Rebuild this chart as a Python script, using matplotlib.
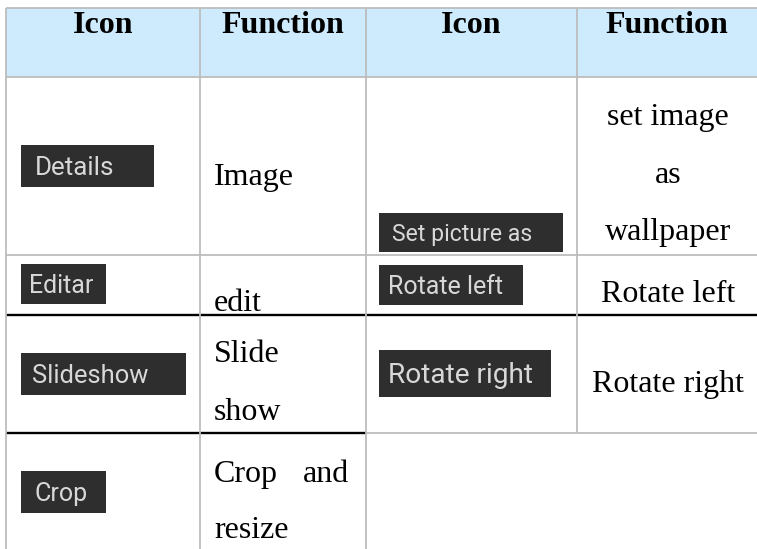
import matplotlib
matplotlib.use("Agg")
import matplotlib.pyplot as plt
from matplotlib.patches import Rectangle

# table content
headers = ["Icon", "Function", "Icon", "Function"]
left_icons = ["Details", "Editar", "Slideshow", "Crop"]
left_funcs = [["Image"], ["edit"], ["Slide", "show"], ["Crop  and", "resize"]]
right_icons = ["Set picture as", "Rotate left", "Rotate right"]
right_funcs = [["set image", "as", "wallpaper"], ["Rotate left"], ["Rotate right"]]

# layout (pixel coordinates, y downwards)
W, H = 757, 549
col_x = [6, 200, 366, 577, 757]
row_y = [8, 77, 255, 315, 433, 549]
GRAY = "#bdbdbd"
HEAD_BG = "#cdebfc"
BOX = "#2e2e2e"
BOX_TXT = "#d8d8d8"
SERIF = "Liberation Serif"

# icon boxes: (x0, y0, x1, y1), text left, font px
left_boxes = [(21, 145, 154, 187, 35, 26), (21, 264, 106, 304, 29, 25),
              (21, 353, 186, 395, 32, 25.5), (21, 471, 106, 513, 35, 25)]
right_boxes = [(379, 213, 563, 252, 392, 23), (379, 265, 523, 305, 388, 25),
               (379, 350, 551, 397, 388, 28)]
# function text baselines
left_base = [[185], [311], [362, 420], [482, 538]]
right_base = [[125, 183, 240], [302], [392]]

fig = plt.figure(figsize=(W / 100, H / 100), dpi=100)
ax = fig.add_axes([0, 0, 1, 1])
ax.set_xlim(0, W)
ax.set_ylim(H, 0)
ax.axis("off")

# header band
ax.add_patch(Rectangle((col_x[0], row_y[0]), W - col_x[0], row_y[1] - row_y[0],
                       facecolor=HEAD_BG, edgecolor="none"))
for i, h in enumerate(headers):
    cx = (col_x[i] + col_x[i + 1]) / 2
    ax.text(cx, 33, h, ha="center", va="baseline", fontsize=23,
            fontweight="bold", family=SERIF, color="black")

# grid lines
lw_g, lw_b = 1.3, 1.7
for y in row_y[:3]:
    ax.plot([col_x[0], W], [y, y], color=GRAY, lw=lw_g, solid_capstyle="butt")
ax.plot([col_x[0], W], [315, 315], color="black", lw=lw_b, solid_capstyle="butt")
ax.plot([col_x[0], col_x[2]], [433, 433], color="black", lw=lw_b, solid_capstyle="butt")
ax.plot([col_x[2], W], [433, 433], color=GRAY, lw=lw_g, solid_capstyle="butt")
for x in col_x[:3]:
    ax.plot([x, x], [row_y[0], H], color=GRAY, lw=lw_g, solid_capstyle="butt")
ax.plot([col_x[3], col_x[3]], [row_y[0], 433], color=GRAY, lw=lw_g, solid_capstyle="butt")


def draw_icon(label, box):
    x0, y0, x1, y1, tx, px = box
    ax.add_patch(Rectangle((x0, y0), x1 - x0, y1 - y0, facecolor=BOX, edgecolor="none"))
    base = (y0 + y1) / 2 + 0.711 * px / 2
    ax.text(tx, base, label, ha="left", va="baseline", fontsize=px * 0.72,
            family="Roboto", color=BOX_TXT)


for label, box in zip(left_icons, left_boxes):
    draw_icon(label, box)
for label, box in zip(right_icons, right_boxes):
    draw_icon(label, box)

# function texts
for lines, bases in zip(left_funcs, left_base):
    for line, b in zip(lines, bases):
        if "  " in line:
            a, c = line.split("  ")
            ax.text(214, b, a, ha="left", va="baseline", fontsize=23, family=SERIF)
            ax.text(349, b, c, ha="right", va="baseline", fontsize=23, family=SERIF)
        else:
            ax.text(214, b, line, ha="left", va="baseline", fontsize=23, family=SERIF)

for lines, bases in zip(right_funcs, right_base):
    for line, b in zip(lines, bases):
        ax.text(668, b, line, ha="center", va="baseline", fontsize=23, family=SERIF)

fig.savefig("out.png", dpi=100, facecolor="white")
